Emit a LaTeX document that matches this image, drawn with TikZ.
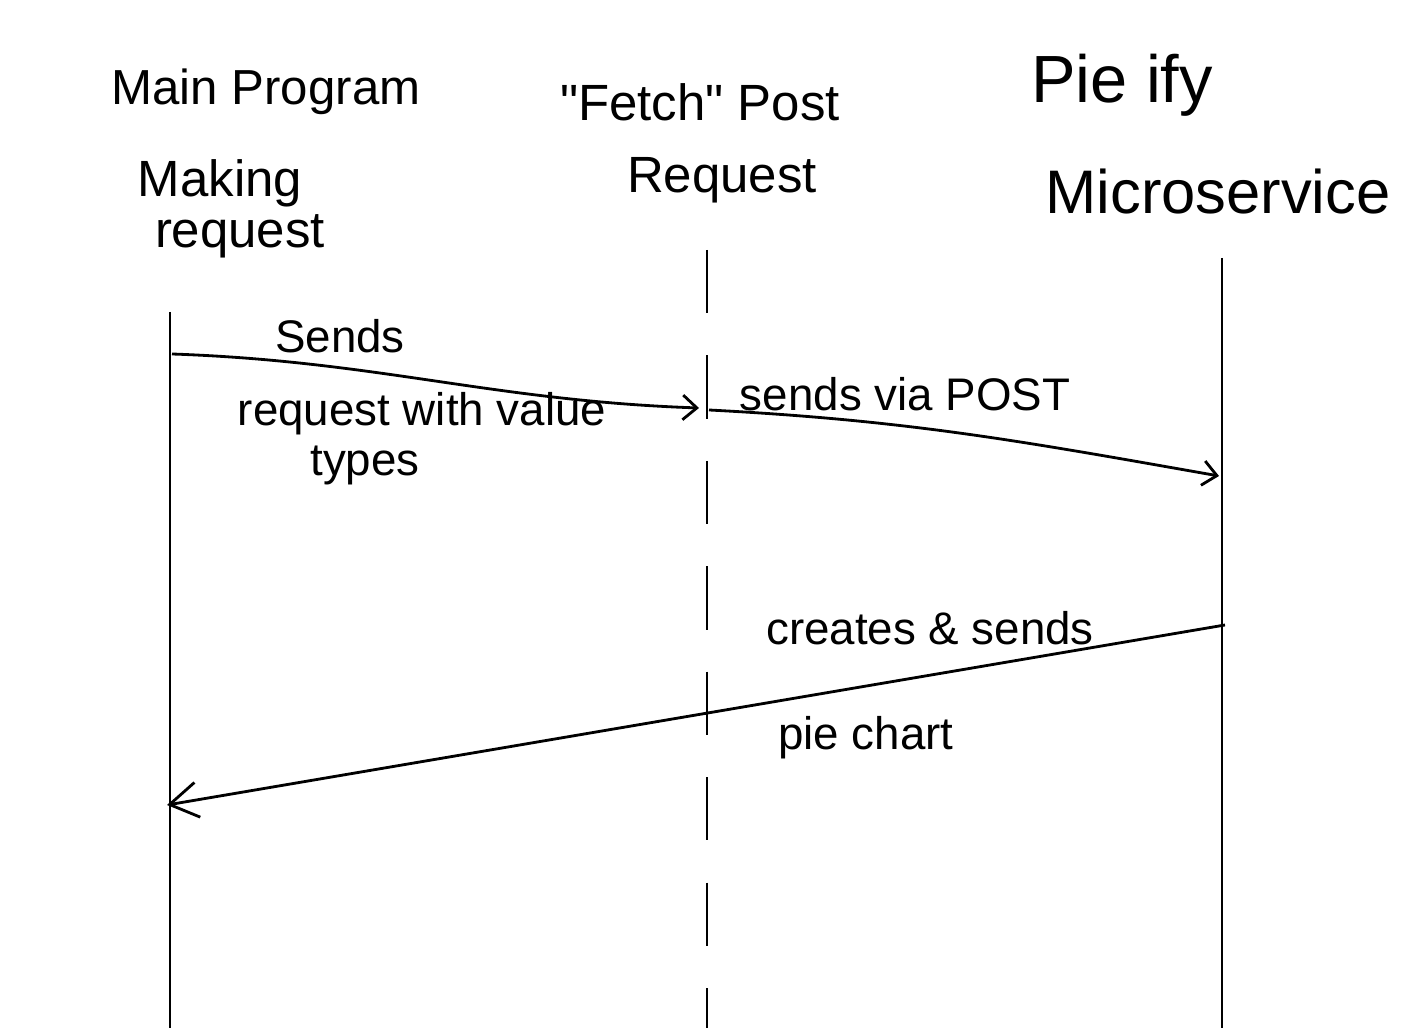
\documentclass[tikz,border=0pt]{standalone}
\usepackage{fontspec}
\setmainfont{Liberation Sans}
\usetikzlibrary{arrows.meta}
\begin{document}
\begin{tikzpicture}[x=0.1mm,y=-0.1mm,
  lifeline/.style={line width=0.8pt},
  msg/.style={line width=0.8pt,-{Straight Barb[length=4pt,width=7pt]}},
  bigmsg/.style={line width=0.8pt,-{Straight Barb[length=8pt,width=10pt]}},
  head/.style={font=\fontsize{14.5}{18}\selectfont,inner sep=0pt},
  lbl/.style={font=\fontsize{13}{16}\selectfont,inner sep=0pt}]
\useasboundingbox[fill=white] (0,0) rectangle (1404,1028);
% headers
\node[head,font=\fontsize{14}{18}\selectfont] (hmain) at (266,92) {Main Program};
\node[head] (hmake) at (220,183) {Making};
\node[head] (hrq) at (240,236) {request};
\node[head] (hfetch) at (700,102) {\textquotedbl Fetch\textquotedbl{} Post};
\node[head] (hreq) at (722,180) {Request};
\node[head,font=\fontsize{19}{22}\selectfont] (hpie) at (1122,85) {Pie ify};
\node[head,font=\fontsize{17.5}{20}\selectfont] (hmicro) at (1218,192) {Microservice};
% lifelines
\coordinate (aT) at (170,312); \coordinate (aB) at (170,1028);
\coordinate (bT) at (707,250); \coordinate (bB) at (707,1028);
\coordinate (cT) at (1222,258); \coordinate (cB) at (1222,1028);
\draw[lifeline] (aT) -- (aB);
\draw[lifeline,dash pattern=on 18pt off 12pt] (bT) -- (bB);
\draw[lifeline] (cT) -- (cB);
% messages
\coordinate (m1s) at (172,354); \coordinate (m1e) at (699,408);
\coordinate (m2s) at (709,410); \coordinate (m2e) at (1219,476);
\coordinate (m3s) at (1225,625); \coordinate (m3e) at (167,805);
\draw[msg] (m1s) to[out=-2,in=178] (m1e);
\draw[msg] (m2s) to[out=-3,in=170] (m2e);
\draw[bigmsg] (m3s) -- (m3e);
% labels
\node[lbl] (l1a) at (340,336) {Sends};
\node[lbl] (l1b) at (422,414) {request with value};
\node[lbl] (l1c) at (365,465) {types};
\node[lbl] (l2) at (905,394) {sends via POST};
\node[lbl] (l3a) at (930,628) {creates \& sends};
\node[lbl] (l3b) at (866,738) {pie chart};
\end{tikzpicture}
\end{document}
